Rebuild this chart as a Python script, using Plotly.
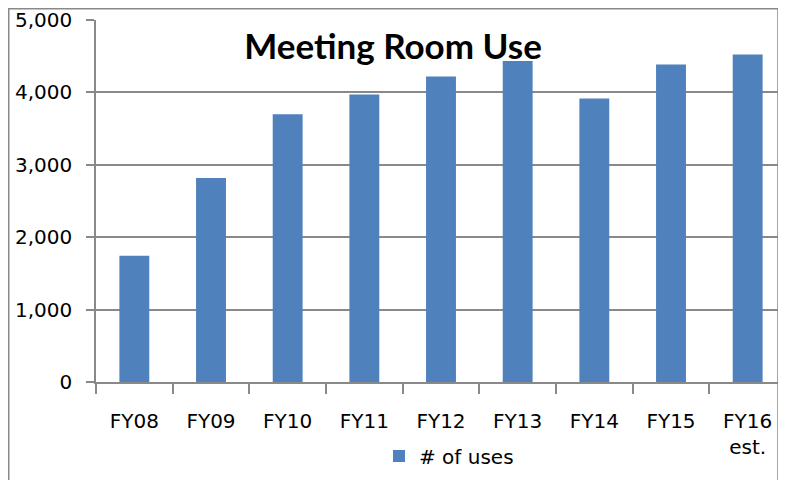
import plotly.graph_objects as go

categories = ["FY08", "FY09", "FY10", "FY11", "FY12", "FY13", "FY14", "FY15", "FY16<br>est."]
uses = [1745, 2817, 3699, 3970, 4218, 4434, 3915, 4384, 4522]
series_name = "# of uses"
title_text = "Meeting Room Use"

GRID = "#898989"
BAR = "#4F81BD"
FONT = "DejaVu Sans"

fig = go.Figure()
fig.add_trace(go.Bar(x=categories, y=uses, name=series_name,
                     marker=dict(color=BAR, line=dict(width=0))))

# page body has an 8px margin, so the figure is laid out 8px up/left
W, H = 778, 472
ml, mr, mt, mb = 88, 0, 12, 97.5
pw, ph = W - ml - mr, H - mt - mb

def px(x):
    return (x - ml) / pw

def py(y):
    return (H - mb - y) / ph

fig.update_layout(
    width=W, height=H,
    margin=dict(l=ml, r=mr, t=mt, b=mb, pad=0, autoexpand=False),
    paper_bgcolor="white", plot_bgcolor="white",
    bargap=0.61,
    separators=".,",
    showlegend=True,
    font=dict(family=FONT, size=20, color="black"),
    title=dict(text="<b>" + title_text + "</b>", x=385 / W, xref="container",
               y=1 - 39 / H, yref="container", xanchor="center", yanchor="middle",
               automargin=False,
               font=dict(family="Lato", size=35, color="black")),
    legend=dict(orientation="h", x=371 / W, xref="container", xanchor="left",
                y=1 - 448 / H, yref="container", yanchor="middle",
                font=dict(family=FONT, size=20), bgcolor="rgba(0,0,0,0)"),
    xaxis=dict(showline=True, linecolor=GRID, linewidth=1.5, ticks="outside",
               tickson="boundaries", ticklen=10, tickcolor=GRID, tickwidth=1.5,
               showgrid=False, ticklabelstandoff=20, automargin=False,
               tickfont=dict(family=FONT, size=20)),
    yaxis=dict(range=[0, 5000], dtick=1000, tickformat=",d", showline=True,
               linecolor=GRID, linewidth=1.5, ticks="outside", ticklen=8, tickcolor=GRID,
               tickwidth=1.5, showgrid=True, gridcolor=GRID, gridwidth=1.5,
               zeroline=False, ticklabelstandoff=10, automargin=False,
               tickfont=dict(family=FONT, size=20)),
    shapes=[dict(type="rect", xref="paper", yref="paper", x0=px(0.75), x1=px(770),
                 y0=py(520), y1=py(0.75), line=dict(color=GRID, width=1.5),
                 fillcolor="rgba(0,0,0,0)", layer="above")],
)

fig.write_html("out.html")
